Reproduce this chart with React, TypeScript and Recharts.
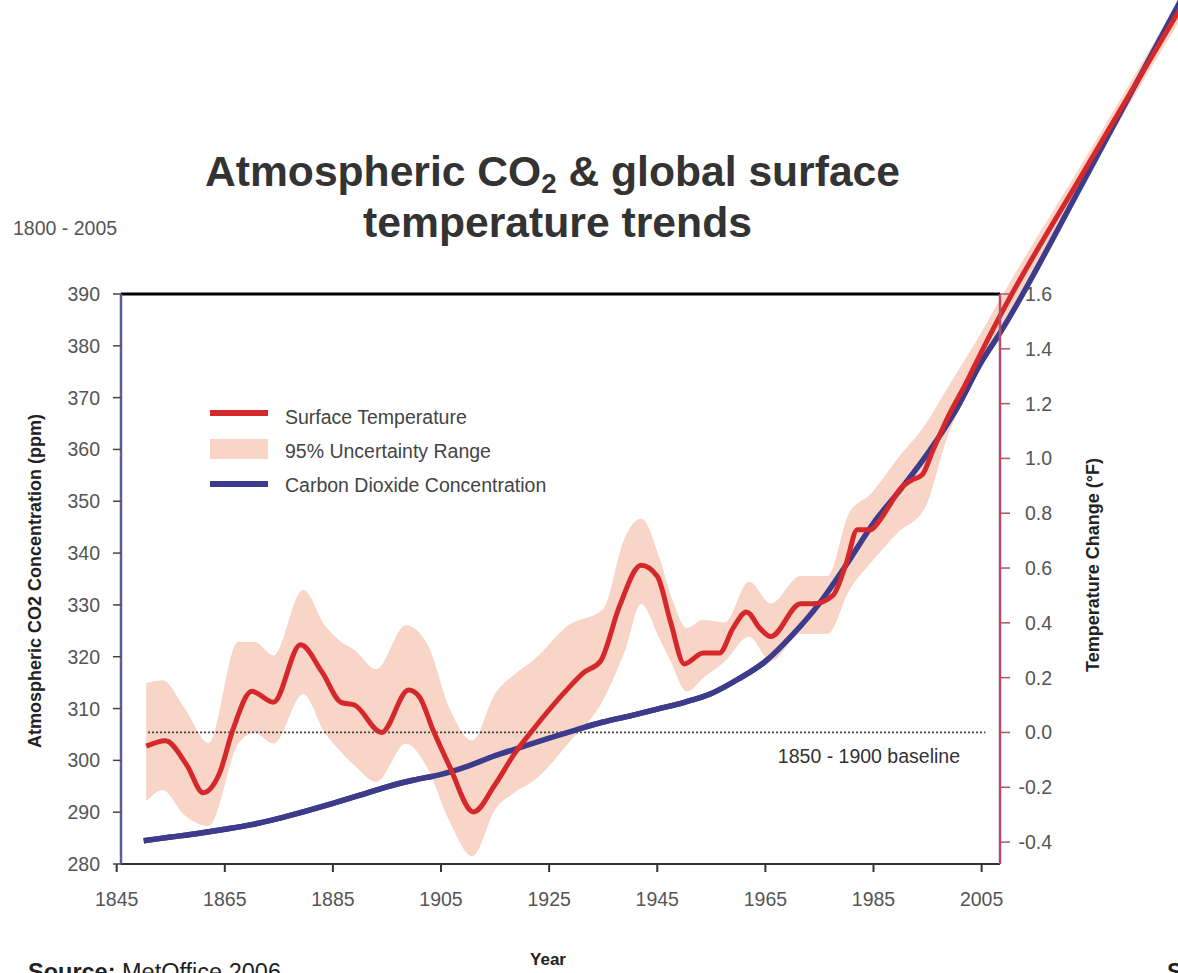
import React from "react";
import { ComposedChart, Line, Area, XAxis, YAxis, ReferenceLine } from "recharts";

// ---------- data ----------
const tempYears = [1850.5, 1854, 1858, 1861, 1864, 1866.5, 1870, 1874, 1879, 1883, 1886.5, 1889, 1894, 1899, 1901, 1903.5, 1906.5, 1911, 1915, 1918.5, 1922, 1928, 1931.5, 1934.5, 1938, 1942, 1945, 1947.5, 1950, 1953.5, 1956.5, 1959, 1961.5, 1964, 1966, 1971.5, 1974, 1977.5, 1980, 1982, 1984.5, 1986, 1988, 1990, 1992, 1994, 1996, 1999, 2002, 2005, 2008.4, 2024, 2042];
const tempValues = [-0.05, -0.03, -0.12, -0.22, -0.15, 0.01, 0.15, 0.11, 0.32, 0.22, 0.11, 0.1, 0.0, 0.155, 0.13, 0.01, -0.12, -0.29, -0.19, -0.08, 0.01, 0.15, 0.22, 0.26, 0.46, 0.61, 0.57, 0.4, 0.25, 0.29, 0.29, 0.38, 0.44, 0.38, 0.35, 0.47, 0.47, 0.5, 0.62, 0.74, 0.74, 0.77, 0.83, 0.89, 0.92, 0.94, 1.03, 1.16, 1.27, 1.39, 1.52, 2.05, 2.65];

const bandYears = [1850.5, 1853.5, 1857.5, 1862, 1867.5, 1870.5, 1874, 1879.5, 1883.5, 1886.5, 1889, 1893, 1898.5, 1902.5, 1906.5, 1910.8, 1915, 1918.5, 1922.5, 1928.5, 1935, 1939, 1942, 1945.5, 1947.5, 1950.5, 1953.5, 1957.5, 1962, 1966, 1971.5, 1976.5, 1980.5, 1984.5, 1989.5, 1994.5, 1998.5, 2005, 2008.4, 2024, 2042];
const bandLow = [-0.25, -0.21, -0.3, -0.34, -0.04, 0.0, -0.04, 0.14, 0.0, -0.07, -0.12, -0.18, -0.04, -0.13, -0.32, -0.45, -0.28, -0.22, -0.17, -0.04, 0.12, 0.3, 0.47, 0.34, 0.26, 0.15, 0.2, 0.26, 0.35, 0.26, 0.36, 0.36, 0.52, 0.62, 0.73, 0.82, 1.07, 1.34, 1.46, 2.01, 2.61];
const bandHigh = [0.18, 0.19, 0.09, -0.04, 0.33, 0.33, 0.28, 0.52, 0.39, 0.33, 0.3, 0.23, 0.39, 0.32, 0.09, -0.03, 0.14, 0.21, 0.27, 0.39, 0.45, 0.71, 0.78, 0.63, 0.5, 0.38, 0.41, 0.4, 0.55, 0.47, 0.57, 0.57, 0.8, 0.87, 1.0, 1.12, 1.25, 1.46, 1.58, 2.09, 2.69];

const co2Years = [1850, 1855, 1860, 1865, 1870, 1875, 1880, 1885, 1890, 1895, 1900, 1905, 1910, 1915, 1920, 1925, 1930, 1935, 1940, 1945, 1950, 1955, 1960, 1965, 1970, 1975, 1980, 1985, 1990, 1995, 2000, 2005, 2008.4, 2024, 2042];
const co2Values = [284.5, 285.2, 285.9, 286.7, 287.6, 288.8, 290.2, 291.7, 293.3, 294.9, 296.2, 297.3, 298.9, 300.9, 302.6, 304.3, 305.9, 307.4, 308.6, 309.9, 311.2, 312.9, 315.7, 319.1, 324.2, 330.3, 337.8, 345.8, 352.3, 359.2, 367.2, 377.0, 382.5, 412, 447];

const xTicks = [1845, 1865, 1885, 1905, 1925, 1945, 1965, 1985, 2005];
const co2Ticks = [280, 290, 300, 310, 320, 330, 340, 350, 360, 370, 380, 390];
const tempTicks = [-0.4, -0.2, 0, 0.2, 0.4, 0.6, 0.8, 1.0, 1.2, 1.4, 1.6];

const X_DOMAIN: [number, number] = [1845.8, 2008.4];
const CO2_DOMAIN: [number, number] = [280, 390];
const TEMP_DOMAIN: [number, number] = [-0.48, 1.6];

const tempData = tempYears.map((year, i) => ({ year, temp: tempValues[i] }));
const bandData = bandYears.map((year, i) => ({ year, range: [bandLow[i], bandHigh[i]] }));
const co2Data = co2Years.map((year, i) => ({ year, co2: co2Values[i] }));

// ---------- layout / style ----------
const W = 1178;
const H = 973;
const PLOT = { left: 121, top: 294, right: 1000, bottom: 864 };
const FONT = "'Liberation Sans', Arial, Helvetica, sans-serif";
const RED = "#d5282b";
const BLUE = "#3d3b8c";
const BAND = "#f8d5c7";
const TICK_COLOR = "#555";

const extendTop = (d: [number, number]): [number, number] => [
  d[0],
  d[0] + ((d[1] - d[0]) * PLOT.bottom) / (PLOT.bottom - PLOT.top),
];
const extendRight = (d: [number, number]): [number, number] => [
  d[0],
  d[0] + ((d[1] - d[0]) * (W - PLOT.left)) / (PLOT.right - PLOT.left),
];

const XTick = (props: any) => {
  const { x, y, payload } = props;
  return (
    <text x={x} y={y} dy="0.72em" textAnchor="middle" fontSize={19.5} fill={TICK_COLOR} fontFamily={FONT}>
      {payload.value}
    </text>
  );
};
const LeftTick = (props: any) => {
  const { x, y, payload } = props;
  return (
    <text x={x} y={y} dy="0.36em" textAnchor="end" fontSize={19.5} fill={TICK_COLOR} fontFamily={FONT}>
      {payload.value}
    </text>
  );
};
const RightTick = (props: any) => {
  const { x, y, payload } = props;
  return (
    <text x={x + 34} y={y} dy="0.36em" textAnchor="end" fontSize={19.5} fill={TICK_COLOR} fontFamily={FONT}>
      {Number(payload.value).toFixed(1)}
    </text>
  );
};

const renderSeries = (k: string) => [
  <Area
    key={k + "band"}
    yAxisId="temp"
    data={bandData}
    dataKey="range"
    type="monotone"
    stroke="none"
    fill={BAND}
    fillOpacity={1}
    isAnimationActive={false}
  />,
  <Line
    key={k + "co2"}
    yAxisId="co2"
    data={co2Data}
    dataKey="co2"
    type="monotone"
    stroke={BLUE}
    strokeWidth={5.5}
    dot={false}
    activeDot={false}
    isAnimationActive={false}
  />,
  <Line
    key={k + "temp"}
    yAxisId="temp"
    data={tempData}
    dataKey="temp"
    type="monotone"
    stroke={RED}
    strokeWidth={5}
    dot={false}
    activeDot={false}
    isAnimationActive={false}
  />,
];

export default function App() {
  const main = renderSeries("main");
  return (
    <div style={{ position: "absolute", left: 0, top: 0, width: W, height: H, overflow: "hidden", background: "#fff" }}>
      {/* Extended layer: the same series continue beyond the frame to the page corner */}
      <div style={{ position: "absolute", left: 0, top: 0 }}>
        <ComposedChart width={W} height={H} margin={{ top: 0, right: 0, left: PLOT.left, bottom: H - PLOT.bottom }}>
          <XAxis type="number" dataKey="year" domain={extendRight(X_DOMAIN)} allowDataOverflow hide />
          <YAxis yAxisId="co2" type="number" domain={extendTop(CO2_DOMAIN)} allowDataOverflow hide />
          <YAxis yAxisId="temp" type="number" orientation="right" domain={extendTop(TEMP_DOMAIN)} allowDataOverflow hide />
          {renderSeries("ext")}
        </ComposedChart>
      </div>

      {/* Main framed chart */}
      <div style={{ position: "absolute", left: 0, top: 0 }}>
        <ComposedChart
          width={W}
          height={H}
          margin={{ top: PLOT.top, right: W - PLOT.right - 60, left: PLOT.left - 60, bottom: H - PLOT.bottom - 30 }}
        >
          <XAxis
            type="number"
            dataKey="year"
            domain={X_DOMAIN}
            allowDataOverflow
            ticks={xTicks}
            interval={0}
            height={30}
            tickSize={8}
            tickMargin={20}
            tick={<XTick />}
            axisLine={{ stroke: "#333", strokeWidth: 2 }}
            tickLine={{ stroke: "#333", strokeWidth: 2 }}
          />
          <YAxis
            yAxisId="co2"
            type="number"
            domain={CO2_DOMAIN}
            allowDataOverflow
            ticks={co2Ticks}
            interval={0}
            width={60}
            tickSize={8}
            tickMargin={13}
            tick={<LeftTick />}
            axisLine={{ stroke: "#5b5e9c", strokeWidth: 2.5 }}
            tickLine={{ stroke: "#444", strokeWidth: 1.5 }}
          />
          <YAxis
            yAxisId="temp"
            type="number"
            orientation="right"
            domain={TEMP_DOMAIN}
            allowDataOverflow
            ticks={tempTicks}
            interval={0}
            width={60}
            tickSize={10}
            tickMargin={8}
            tick={<RightTick />}
            axisLine={{ stroke: "#b5506a", strokeWidth: 2.5 }}
            tickLine={{ stroke: "#b5506a", strokeWidth: 1.5 }}
          />
          {main[0]}
          <ReferenceLine
            yAxisId="temp"
            segment={[
              { x: 1850.8, y: 0 },
              { x: 2005.7, y: 0 },
            ]}
            stroke="#444"
            strokeWidth={1.8}
            strokeDasharray="2 2"
          />
          {main[1]}
          {main[2]}
          <ReferenceLine yAxisId="co2" y={390} stroke="#000" strokeWidth={3} />
        </ComposedChart>
      </div>

      {/* Texts and legend */}
      <svg width={W} height={H} style={{ position: "absolute", left: 0, top: 0, pointerEvents: "none" }}>
        <text
          x={205}
          y={186}
          textLength={695}
          lengthAdjust="spacingAndGlyphs"
          fontFamily={FONT}
          fontWeight="bold"
          fontSize={43}
          fill="#333"
        >
          Atmospheric CO
          <tspan fontSize={28} dy={7}>2</tspan>
          <tspan dy={-7}> &amp; global surface</tspan>
        </text>
        <text
          x={363}
          y={237}
          textLength={389}
          lengthAdjust="spacingAndGlyphs"
          fontFamily={FONT}
          fontWeight="bold"
          fontSize={43}
          fill="#333"
        >
          temperature trends
        </text>
        <text x={13} y={235} fontFamily={FONT} fontSize={19.5} fill="#555">
          1800 - 2005
        </text>

        {/* legend */}
        <line x1={210} y1={413} x2={268} y2={413} stroke={RED} strokeWidth={6} />
        <rect x={210} y={439} width={58} height={20} fill={BAND} />
        <line x1={210} y1={484} x2={268} y2={484} stroke={BLUE} strokeWidth={6} />
        <text x={285} y={424} fontFamily={FONT} fontSize={19.5} fill="#444">Surface Temperature</text>
        <text x={285} y={458} fontFamily={FONT} fontSize={19.5} fill="#444">95% Uncertainty Range</text>
        <text x={285} y={492} fontFamily={FONT} fontSize={19.5} fill="#444">Carbon Dioxide Concentration</text>

        <text x={960} y={763} textAnchor="end" fontFamily={FONT} fontSize={19.5} fill="#333">
          1850 - 1900 baseline
        </text>

        <text
          transform="translate(41,581) rotate(-90)"
          textAnchor="middle"
          fontFamily={FONT}
          fontWeight="bold"
          fontSize={18}
          fill="#222"
        >
          Atmospheric CO2 Concentration (ppm)
        </text>
        <text
          transform="translate(1099,565) rotate(-90)"
          textAnchor="middle"
          fontFamily={FONT}
          fontWeight="bold"
          fontSize={18}
          fill="#222"
        >
          Temperature Change (°F)
        </text>
        <text x={548} y={965} textAnchor="middle" fontFamily={FONT} fontWeight="bold" fontSize={17} fill="#222">
          Year
        </text>
        <text x={28} y={980} fontFamily={FONT} fontSize={23.5} fill="#222">
          <tspan fontWeight="bold">Source:</tspan> MetOffice 2006
        </text>
        <text x={1167} y={980} fontFamily={FONT} fontWeight="bold" fontSize={23.5} fill="#222">
          S
        </text>
      </svg>
    </div>
  );
}
